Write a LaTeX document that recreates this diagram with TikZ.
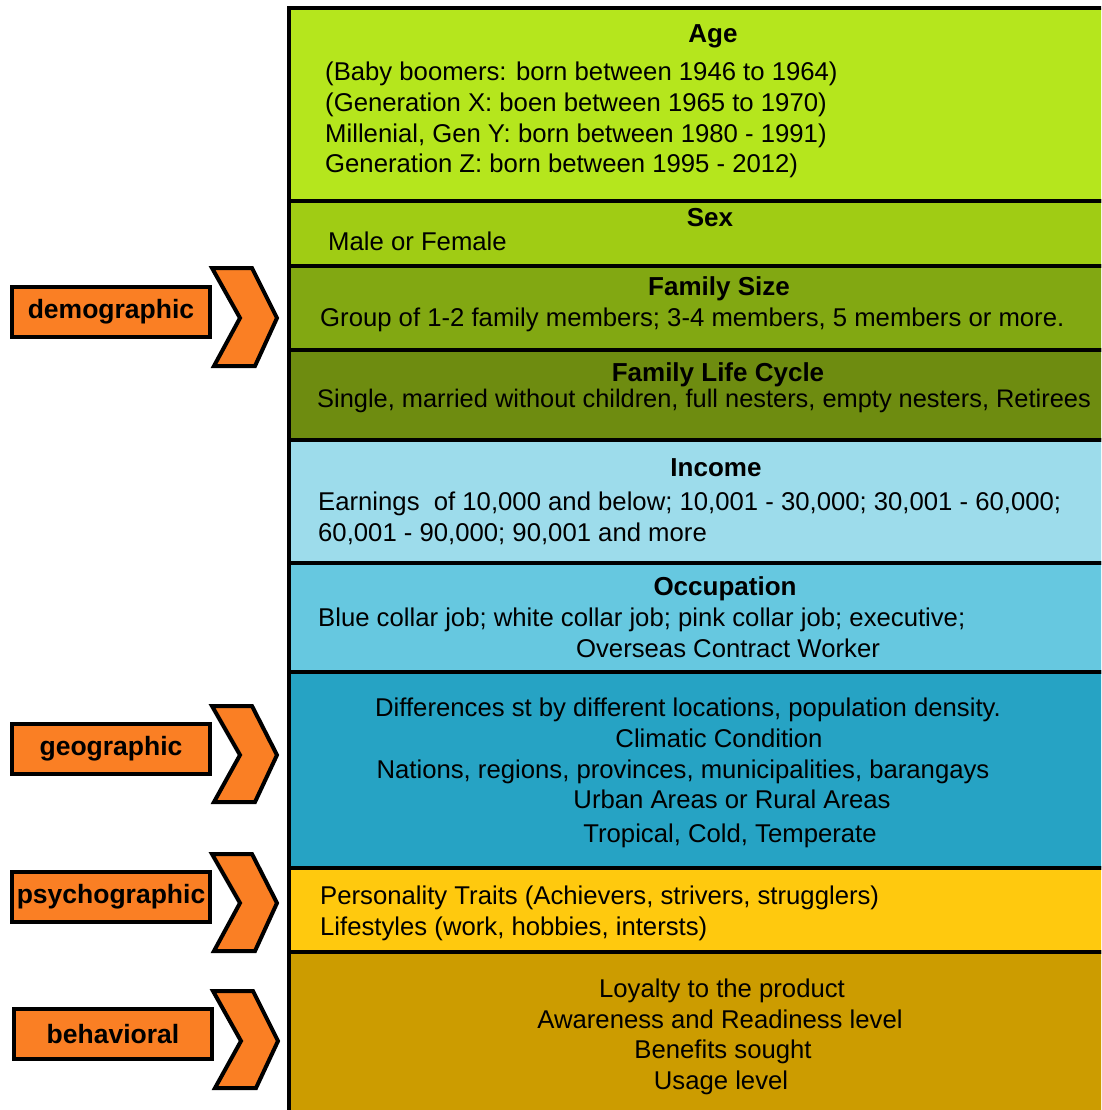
\documentclass[tikz,border=0pt]{standalone}
\usepackage{fontspec}
\setmainfont{Liberation Sans}
\definecolor{cAge}{RGB}{181,230,29}
\definecolor{cSex}{RGB}{160,204,20}
\definecolor{cFam}{RGB}{130,168,18}
\definecolor{cLife}{RGB}{110,140,16}
\definecolor{cInc}{RGB}{157,220,235}
\definecolor{cOcc}{RGB}{102,200,224}
\definecolor{cGeo}{RGB}{38,163,196}
\definecolor{cPsy}{RGB}{255,201,14}
\definecolor{cBeh}{RGB}{204,156,0}
\definecolor{cOrange}{RGB}{250,127,36}
\begin{document}
\begin{tikzpicture}[x=1pt,y=-1pt,
  band/.style={draw=black,line width=4pt},
  txt/.style={inner sep=0pt,font=\fontsize{25.7}{30}\selectfont},
  ttl/.style={inner sep=0pt,font=\fontsize{26}{30}\selectfont\bfseries},
  lbl/.style={draw=black,line width=4pt,fill=cOrange,minimum width=198pt,minimum height=50pt,inner sep=0pt,font=\fontsize{26.5}{30}\selectfont\bfseries},
  chev/.style={draw=black,line width=4pt,fill=cOrange,line join=miter}]
\useasboundingbox (0,0) rectangle (1101,1110);
\clip (0,0) rectangle (1101,1110);
% bands
\draw[band,fill=cAge]  (289,8)   rectangle (1120,201);
\draw[band,fill=cSex]  (289,201) rectangle (1120,266);
\draw[band,fill=cFam]  (289,266) rectangle (1120,350);
\draw[band,fill=cLife] (289,350) rectangle (1120,440);
\draw[band,fill=cInc]  (289,440) rectangle (1120,563);
\draw[band,fill=cOcc]  (289,563) rectangle (1120,672);
\draw[band,fill=cGeo]  (289,672) rectangle (1120,868);
\draw[band,fill=cPsy]  (289,868) rectangle (1120,952);
\draw[band,fill=cBeh]  (289,952) rectangle (1120,1130);
% Age
\node[ttl,anchor=base] (ageT) at (713,43) {Age};
\node[txt,anchor=base west] (age1) at (325,81) {(Baby boomers: born between 1946 to 1964)};
\node[txt,anchor=base west] (age2) at (325,112) {(Generation X: boen between 1965 to 1970)};
\node[txt,anchor=base west] (age3) at (325,143) {Millenial, Gen Y: born between 1980 - 1991)};
\node[txt,anchor=base west] (age4) at (325,173) {Generation Z: born between 1995 - 2012)};
% Sex
\node[ttl,anchor=base] (sexT) at (710,226) {Sex};
\node[txt,anchor=base west] (sex1) at (328,250) {Male or Female};
% Family size
\node[ttl,anchor=base] (famT) at (719,295) {Family Size};
\node[txt,anchor=base west] (fam1) at (320,326) {Group of 1-2 family members; 3-4 members, 5 members or more.};
% Life cycle
\node[ttl,anchor=base] (lifeT) at (718,381) {Family Life Cycle};
\node[txt,anchor=base west,font=\fontsize{25.4}{30}\selectfont] (life1) at (317,407) {Single, married without children, full nesters, empty nesters, Retirees};
% Income
\node[ttl,anchor=base] (incT) at (716,476) {Income};
\node[txt,anchor=base west] (inc1) at (318,510) {Earnings\ \ of 10,000 and below; 10,001 - 30,000; 30,001 - 60,000;};
\node[txt,anchor=base west] (inc2) at (318,541) {60,001 - 90,000; 90,001 and more};
% Occupation
\node[ttl,anchor=base] (occT) at (725,595) {Occupation};
\node[txt,anchor=base west] (occ1) at (318,626) {Blue collar job; white collar job; pink collar job; executive;};
\node[txt,anchor=base] (occ2) at (728,657) {Overseas Contract Worker};
% Geographic
\node[txt,anchor=base] (geo1) at (688,716) {Differences st by different locations, population density.};
\node[txt,anchor=base] (geo2) at (719,747) {Climatic Condition};
\node[txt,anchor=base] (geo3) at (683,778) {Nations, regions, provinces, municipalities, barangays};
\node[txt,anchor=base] (geo4) at (732,808) {Urban Areas or Rural Areas};
\node[txt,anchor=base] (geo5) at (730,842) {Tropical, Cold, Temperate};
% Psychographic
\node[txt,anchor=base west] (psy1) at (320,904) {Personality Traits (Achievers, strivers, strugglers)};
\node[txt,anchor=base west] (psy2) at (320,935) {Lifestyles (work, hobbies, intersts)};
% Behavioral
\node[txt,anchor=base] (beh1) at (722,997) {Loyalty to the product};
\node[txt,anchor=base] (beh2) at (720,1028) {Awareness and Readiness level};
\node[txt,anchor=base] (beh3) at (723,1058) {Benefits sought};
\node[txt,anchor=base] (beh4) at (721,1089) {Usage level};
% labels
\node[lbl] (demo) at (111,312) {demographic};
\node[lbl] (geog) at (111,749) {geographic};
\node[lbl] (psyc) at (111,897) {psychographic};
\node[lbl] (beha) at (113,1034) {behavioral};
% chevrons
\draw[chev] (212,268) -- (252,268) -- (277,318) -- (255,366) -- (214,366) -- (240,318) -- cycle;
\draw[chev] (212,706) -- (252,706) -- (277,755) -- (255,802) -- (214,802) -- (240,755) -- cycle;
\draw[chev] (212,854) -- (252,854) -- (277,903) -- (255,951) -- (214,951) -- (240,903) -- cycle;
\draw[chev] (213,991) -- (253,991) -- (278,1041) -- (256,1088) -- (215,1088) -- (241,1041) -- cycle;
\end{tikzpicture}
\end{document}
